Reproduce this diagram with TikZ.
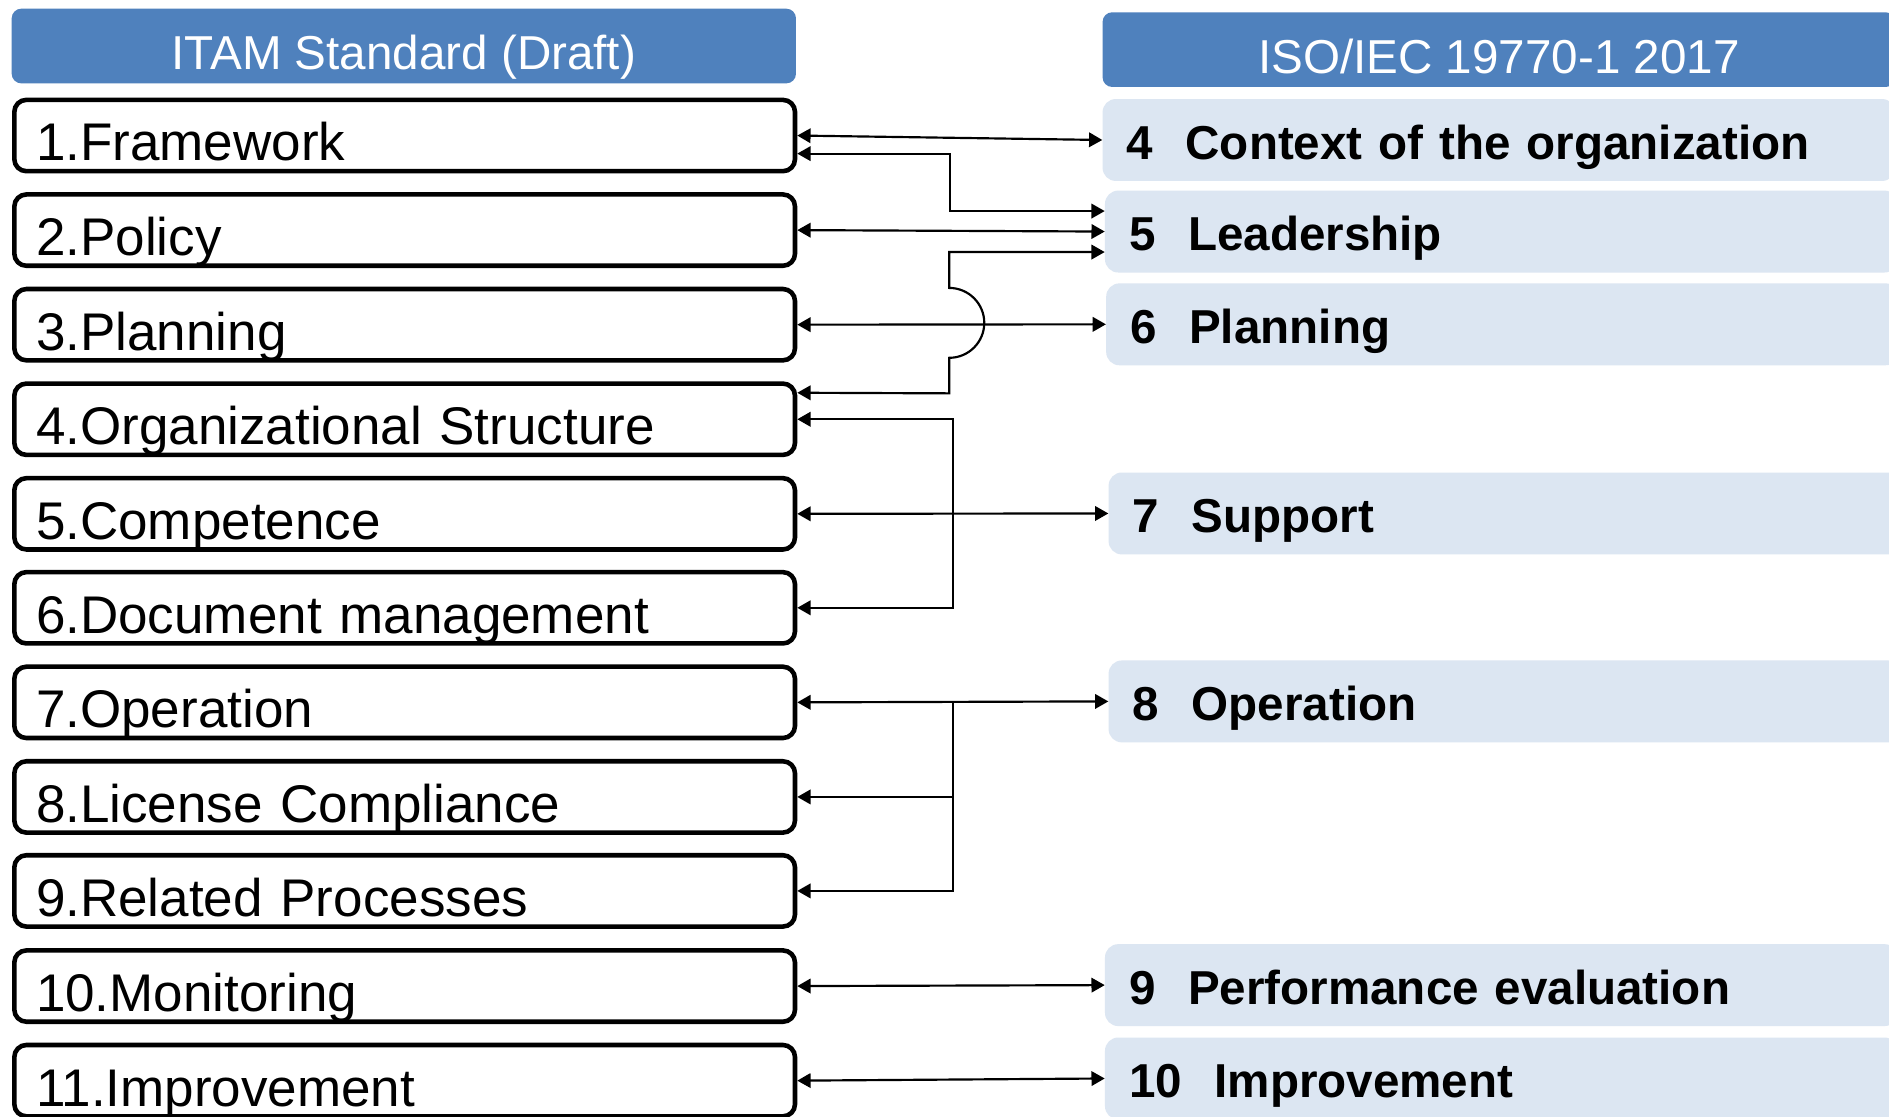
\documentclass[tikz,border=0pt]{standalone}
\usepackage{fontspec}
\setmainfont{Liberation Sans}
\usetikzlibrary{arrows.meta,calc}
\definecolor{hdr}{HTML}{4F81BD}
\definecolor{lite}{HTML}{DCE6F2}
\tikzset{
  hdrbox/.style={fill=hdr, rounded corners=8pt, text=white, font=\fontsize{39.5}{45}\selectfont, inner sep=0pt, text height=50.5pt, text depth=11.5pt, anchor=north west},
  lbox/.style={draw=black, line width=3.8pt, rounded corners=10pt, fill=white, text width=612pt, align=left, inner xsep=18pt, inner ysep=0pt, text height=50.7pt, text depth=8.5pt, font=\fontsize{44}{50}\selectfont, anchor=north west},
  rbox/.style={fill=lite, rounded corners=11pt, text width=618pt, align=left, inner xsep=20pt, inner ysep=0pt, text height=50pt, text depth=18pt, font=\bfseries\fontsize{39.5}{45}\selectfont, anchor=north west},
  tip/.tip={Triangle[length=11pt,width=12pt]},
  dbl/.style={line width=1.8pt, tip-tip},
  sgl/.style={line width=1.8pt, -tip},
}
\begin{document}
\begin{tikzpicture}[x=1pt,y=-1pt]
\clip (0,0) rectangle (1568,927);
\fill[white] (0,0) rectangle (1568,927);
% headers
\node[hdrbox, minimum width=651pt] (hl) at (9.5,7) {ITAM Standard (Draft)};
\node[hdrbox, minimum width=658pt] (hr) at (915,10) {ISO/IEC 19770-1 2017};
% left boxes
\node[lbox] (l1) at (10,81) {1.Framework};
\node[lbox] (l2) at (10,159.5) {2.Policy};
\node[lbox] (l3) at (10,238) {3.Planning};
\node[lbox] (l4) at (10,316.5) {4.Organizational Structure};
\node[lbox] (l5) at (10,395) {5.Competence};
\node[lbox] (l6) at (10,473) {6.Document management};
\node[lbox] (l7) at (10,551.5) {7.Operation};
\node[lbox] (l8) at (10,630) {8.License Compliance};
\node[lbox] (l9) at (10,708) {9.Related Processes};
\node[lbox] (l10) at (10,787) {10.Monitoring};
\node[lbox] (l11) at (10,865.5) {11.Improvement};
% right boxes
\node[rbox] (r4) at (915,82) {4\hspace{27pt}Context of the organization};
\node[rbox] (r5) at (917,158) {5\hspace{27pt}Leadership};
\node[rbox] (r6) at (918,235) {6\hspace{27pt}Planning};
\node[rbox] (r7) at (920,392) {7\hspace{27pt}Support};
\node[rbox] (r8) at (920,548) {8\hspace{27pt}Operation};
\node[rbox] (r9) at (917,783.5) {9\hspace{27pt}Performance evaluation};
\node[rbox] (r10) at (917,861) {10\hspace{27pt}Improvement};
% connectors
\draw[dbl] (l1.east) -- (r4.west);
\draw[dbl] ($(l1.east)+(0,15)$) -- ++(127,0) |- ($(r5.west)+(0,-17)$);
\draw[dbl] (l2.east) -- (r5.west);
\draw[dbl] ($(r5.west)+(0,17)$) -- ++(-129,0) -- (788,239)
  .. controls (804,239) and (817,252) .. (817,268)
  .. controls (817,284) and (804,297) .. (788,297)
  -- (788,326.5) -- ($(l4.east)+(0,-22)$);
\draw[dbl] (l3.east) -- (r6.west);
\draw[dbl] (l5.east) -- (r7.west);
\coordinate (j2) at (791,426);
\draw[sgl] (j2) |- (l4.east);
\draw[sgl] (j2) |- (l6.east);
\draw[dbl] (l7.east) -- (r8.west);
\coordinate (j3) at (791,582.5);
\draw[sgl] (j3) |- (l8.east);
\draw[sgl] (j3) |- (l9.east);
\draw[dbl] (l10.east) -- (r9.west);
\draw[dbl] (l11.east) -- (r10.west);
\end{tikzpicture}
\end{document}
